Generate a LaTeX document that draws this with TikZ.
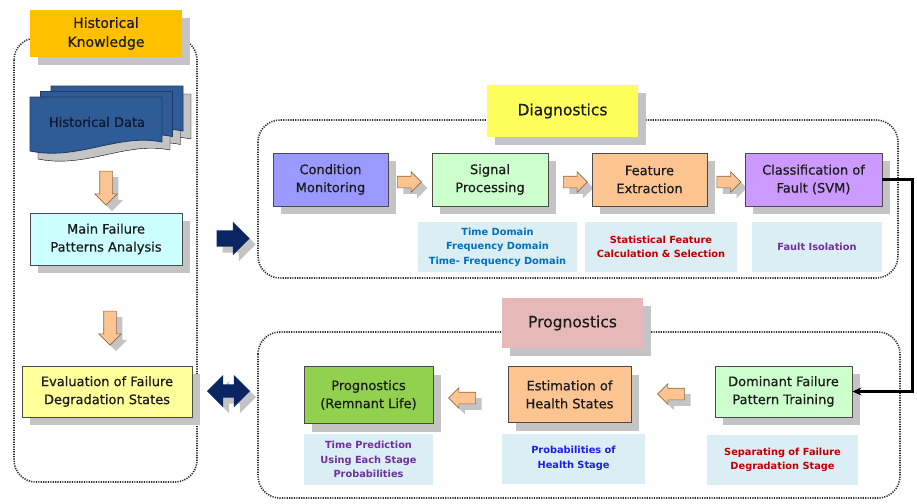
\documentclass[tikz,border=0pt]{standalone}
\usepackage{fontspec}
\setmainfont{DejaVu Sans}
\newfontfamily\boxfamily[FakeBold=0.5]{DejaVu Sans}
\usetikzlibrary{shapes.arrows}
\usetikzlibrary{shadows}
\usetikzlibrary{arrows.meta}
\definecolor{color_frame}{HTML}{2E2E2E}
\definecolor{color_box_line}{HTML}{4A4A4A}
\definecolor{color_shadow}{HTML}{C4C4C4}
\definecolor{color_text}{HTML}{1C1C1C}
\definecolor{color_hk_bg}{HTML}{FFC000}
\definecolor{color_doc_bg}{HTML}{2F5B96}
\definecolor{color_doc_line}{HTML}{1F3A66}
\definecolor{color_doc_text}{HTML}{101833}
\definecolor{color_mfpa_bg}{HTML}{CCFFFF}
\definecolor{color_eval_bg}{HTML}{FFFF99}
\definecolor{color_diag_bg}{HTML}{FFFF5C}
\definecolor{color_prog_bg}{HTML}{E6B9B8}
\definecolor{color_cm_bg}{HTML}{9999FF}
\definecolor{color_green_bg}{HTML}{CCFFCC}
\definecolor{color_peach_bg}{HTML}{FBC491}
\definecolor{color_clf_bg}{HTML}{CC99FF}
\definecolor{color_life_bg}{HTML}{92D050}
\definecolor{color_desc_bg}{HTML}{DAEEF3}
\definecolor{color_arrow_line}{HTML}{8A6A4A}
\definecolor{color_navy}{HTML}{0B2462}
\definecolor{color_desc_blue}{HTML}{0070C0}
\definecolor{color_desc_red}{HTML}{C00000}
\definecolor{color_desc_purple}{HTML}{7030A0}
\definecolor{color_desc_pureblue}{HTML}{1E1EE6}
\def\boxlinewidth{0.8pt}
\def\mainfont{\boxfamily\fontsize{13}{18}\selectfont}
\def\descfont{\bfseries\fontsize{9.8}{14.5}\selectfont}
\def\labelfont{\boxfamily\fontsize{15.5}{18}\selectfont}
% one sheet of the stacked document shape
\def\histdoc[#1](#2,#3){
    \filldraw[#1] (#2,#3) -- ({#2+132},#3) -- ({#2+132},{#3+45})
        .. controls ({#2+88},{#3+36}) and ({#2+48},{#3+64}) .. (#2,{#3+54}) -- cycle;
}
\tikzset{
    boxshadow/.style={drop shadow={shadow xshift=8pt, shadow yshift=-8pt, fill=color_shadow, opacity=1}},
    arrowshadow/.style={drop shadow={shadow xshift=6pt, shadow yshift=-6pt, fill=color_shadow, opacity=1}},
    stagebox/.style={draw=color_box_line, line width=\boxlinewidth, align=center, inner sep=2pt,
        text=color_text, font=\mainfont, boxshadow},
    titlebox/.style={align=center, inner sep=2pt, text=color_text, boxshadow},
    descbox/.style={fill=color_desc_bg, align=center, inner sep=2pt, font=\descfont},
    framebox/.style={draw=color_frame, line width=1.6pt, dash pattern=on 1.2pt off 1.2pt, rounded corners=22pt},
    peacharrow/.style={single arrow, draw=color_arrow_line, fill=color_peach_bg, line width=0.6pt,
        inner sep=5.5pt, minimum height=24pt, single arrow head extend=4.5pt, arrowshadow},
    navyarrow/.style={single arrow, fill=color_navy, inner sep=8pt, minimum height=33pt,
        single arrow head extend=8.5pt, arrowshadow},
    navydouble/.style={double arrow, fill=color_navy, inner sep=6.5pt, minimum height=43pt,
        double arrow head extend=9.5pt, arrowshadow},
    docshadow/.style={fill=color_shadow},
    docpaper/.style={fill=color_doc_bg, draw=color_doc_line, line width=0.8pt},
    linkline/.style={line width=2.2pt, -{Stealth[length=9pt,width=8pt]}}
}
\begin{document}
\begin{tikzpicture}[x=1pt,y=-1pt]
    \useasboundingbox (0,0) rectangle (917,503);
    % dotted frames
    \draw[framebox] (14,38) rectangle (197,482);
    \draw[framebox] (258,120) rectangle (898,278);
    \draw[framebox] (258,332) rectangle (900,498);

    % historical knowledge
    \node[titlebox, fill=color_hk_bg, minimum width=152pt, minimum height=47pt,
        font=\boxfamily\fontsize{14}{19}\selectfont] (hk) at (106,33.5) {Historical\\Knowledge};
    \foreach \dx/\dy in {59/94,48.5/99.5,38/105} {\histdoc[docshadow](\dx,\dy)}
    \foreach \dx/\dy in {51/86,40.5/91.5,30/97} {\histdoc[docpaper](\dx,\dy)}
    \node[font=\mainfont, text=color_doc_text, minimum width=132pt, minimum height=50pt] (hdata) at (97,122) {Historical Data};
    \node[peacharrow, shape border rotate=270, minimum height=34pt, inner sep=6pt,
        single arrow head extend=5pt] (harr1) at (106,185) {};
    \node[stagebox, fill=color_mfpa_bg, minimum width=152pt, minimum height=52pt] (mfpa) at (106,239) {Main Failure\\Patterns Analysis};
    \node[peacharrow, shape border rotate=270, minimum height=34pt, inner sep=6pt,
        single arrow head extend=5pt] (harr2) at (110,325) {};
    \node[stagebox, fill=color_eval_bg, minimum width=170pt, minimum height=51pt] (eval) at (107,391.5) {Evaluation of Failure\\Degradation States};
    \node[navyarrow] (todiag) at (229,238.5) {};
    \node[navydouble] (toprog) at (228.5,391) {};

    % diagnostics
    \node[titlebox, fill=color_diag_bg, minimum width=151pt, minimum height=52pt, font=\labelfont] (diag) at (562.5,111) {Diagnostics};
    \node[stagebox, fill=color_cm_bg, minimum width=115pt, minimum height=53pt] (cm) at (330.5,179.5) {Condition\\Monitoring};
    \node[peacharrow] (darr1) at (406.5,182) {};
    \node[stagebox, fill=color_green_bg, minimum width=116pt, minimum height=53pt] (sp) at (490,179.5) {Signal\\Processing};
    \node[peacharrow] (darr2) at (572.5,182) {};
    \node[stagebox, fill=color_peach_bg, minimum width=115pt, minimum height=53pt] (fe) at (649.5,179.5) {Feature\\Extraction};
    \node[peacharrow] (darr3) at (726,182) {};
    \node[stagebox, fill=color_clf_bg, minimum width=137pt, minimum height=53pt] (clf) at (813.5,179.5) {Classification of\\Fault (SVM)};
    \node[descbox, text=color_desc_blue, minimum width=159pt, minimum height=50pt] (spdesc) at (497.5,247) {Time Domain\\Frequency Domain\\Time- Frequency Domain};
    \node[descbox, text=color_desc_red, minimum width=152pt, minimum height=50pt] (fedesc) at (661,247) {Statistical Feature\\Calculation \& Selection};
    \node[descbox, text=color_desc_purple, minimum width=130pt, minimum height=50pt] (clfdesc) at (817,247) {Fault Isolation};

    % prognostics
    \node[titlebox, fill=color_prog_bg, minimum width=141pt, minimum height=50pt, font=\labelfont] (prog) at (572.5,323) {Prognostics};
    \node[stagebox, fill=color_life_bg, minimum width=129pt, minimum height=57pt] (life) at (368.5,395) {Prognostics\\(Remnant Life)};
    \node[peacharrow, shape border rotate=180, minimum height=27pt] (parr1) at (465,398) {};
    \node[stagebox, fill=color_peach_bg, minimum width=123pt, minimum height=56pt] (ehs) at (569.5,394.5) {Estimation of\\Health States};
    \node[peacharrow, shape border rotate=180, minimum height=27pt] (parr2) at (674,394) {};
    \node[stagebox, fill=color_green_bg, minimum width=137pt, minimum height=51pt] (dom) at (783.5,391.5) {Dominant Failure\\Pattern Training};
    \node[descbox, text=color_desc_purple, minimum width=129pt, minimum height=51pt] (lifedesc) at (368.5,459.5) {Time Prediction\\Using Each Stage\\Probabilities};
    \node[descbox, text=color_desc_pureblue, minimum width=143pt, minimum height=50pt] (ehsdesc) at (573.5,458.5) {Probabilities of\\Health Stage};
    \node[descbox, text=color_desc_red, minimum width=151pt, minimum height=50pt] (domdesc) at (782.5,460) {Separating of Failure\\Degradation Stage};

    % link from diagnostics to prognostics
    \draw[linkline] (clf.east) -- ++(30,0) |- (dom.east);
\end{tikzpicture}
\end{document}
